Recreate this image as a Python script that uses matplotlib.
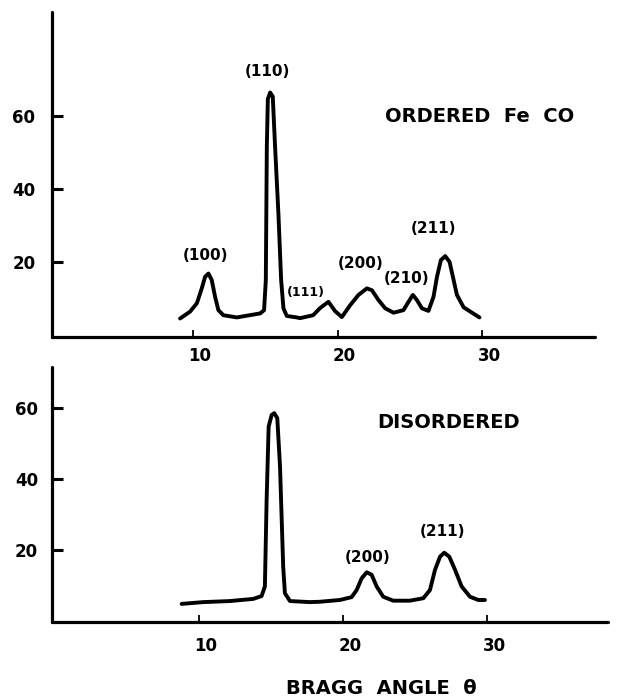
import numpy as np
import matplotlib.pyplot as plt
from matplotlib.transforms import ScaledTranslation

# --- Ordered FeCo curve (Bragg angle, intensity) ---
ordered_angle = [9.10, 9.79, 10.26, 10.60, 10.83, 11.06, 11.29, 11.52, 11.75, 12.10,
                 13.02, 14.64, 14.91, 15.03, 15.10, 15.17, 15.33, 15.51, 15.67, 15.90,
                 16.09, 16.25, 16.48, 17.17, 17.40, 18.30, 18.79, 19.36, 19.83, 20.29,
                 20.87, 21.44, 22.02, 22.37, 22.82, 23.29, 23.86, 24.55, 24.90, 25.20,
                 25.48, 25.83, 26.28, 26.63, 26.87, 27.14, 27.44, 27.74, 27.97, 28.25,
                 28.71, 29.29, 29.81]
ordered_int = [4.3, 6.2, 8.5, 12.6, 15.8, 16.7, 14.9, 10.3, 6.6, 5.2,
               4.6, 5.7, 6.6, 14.9, 51.7, 64.8, 66.6, 65.5, 51.7, 33.3,
               14.9, 7.1, 5.0, 4.6, 4.4, 5.2, 7.2, 8.9, 6.3, 4.7,
               8.0, 10.8, 12.6, 12.1, 9.4, 7.1, 5.9, 6.6, 8.9, 10.8,
               9.4, 7.1, 6.4, 10.3, 15.8, 20.4, 21.5, 19.9, 15.8, 10.8,
               7.4, 5.9, 4.6]

# --- Disordered curve ---
disordered_angle = [8.80, 10.30, 12.15, 13.77, 14.35, 14.58, 14.70, 14.84, 15.05, 15.23,
                    15.44, 15.63, 15.85, 15.97, 16.32, 17.71, 18.40, 19.79, 20.60, 20.95,
                    21.30, 21.65, 21.99, 22.34, 22.80, 23.49, 24.65, 25.58, 26.04, 26.39,
                    26.74, 27.03, 27.38, 27.78, 28.24, 28.82, 29.40, 29.86]
disordered_int = [4.8, 5.3, 5.6, 6.2, 7.0, 9.7, 34.1, 54.7, 58.0, 58.5,
                  57.1, 43.5, 15.3, 7.8, 5.6, 5.3, 5.4, 5.9, 6.7, 8.7,
                  12.0, 13.7, 13.0, 9.7, 6.8, 5.7, 5.7, 6.4, 8.7, 14.4,
                  18.1, 19.2, 18.1, 14.4, 9.7, 6.8, 5.9, 5.9]

# peak labels: (text, angle, intensity)
ordered_peaks = [("(100)", 10.83, 21.8), ("(110)", 15.12, 72.3), ("(111)", 17.8, 11.6),
                 ("(200)", 21.56, 19.6), ("(210)", 24.8, 15.4), ("(211)", 26.6, 29.2)]
disordered_peaks = [("(200)", 21.7, 18.0), ("(211)", 26.9, 25.1)]

x_ticks = [10, 20, 30]
y_ticks = [20, 40, 60]

W, H = 621, 698
fig = plt.figure(figsize=(W / 100, H / 100), dpi=100)

ax1 = fig.add_axes([52 / W, (H - 337) / H, 543 / W, 325 / H])
ax2 = fig.add_axes([52 / W, (H - 622) / H, 556 / W, 255 / H])


def style_axes(ax, ypad, xpad):
    for side in ["top", "right"]:
        ax.spines[side].set_visible(False)
    for side in ["left", "bottom"]:
        ax.spines[side].set_linewidth(2.3)
        ax.spines[side].set_capstyle("round")
    ax.set_yticks(y_ticks)
    ax.set_yticklabels([str(v) for v in y_ticks], fontweight="bold", fontsize=12)
    ax.set_xticks(x_ticks)
    ax.set_xticklabels([str(v) for v in x_ticks], fontweight="bold", fontsize=12)
    ax.tick_params(axis="y", direction="in", length=8, width=2.2, pad=ypad)
    ax.tick_params(axis="x", direction="in", length=5, width=1.3, pad=xpad)
    # hand lettering sits a little to the right of the tick marks
    shift = ScaledTranslation(5 / 72, 0, fig.dpi_scale_trans)
    for lab in ax.get_xticklabels():
        lab.set_transform(lab.get_transform() + shift)


# --- top panel: ordered ---
ax1.plot(ordered_angle, ordered_int, color="black", linewidth=2.8,
         solid_joinstyle="round", solid_capstyle="round")
ax1.set_xlim(0.24, 37.8)
ax1.set_ylim(-0.8, 88.8)
style_axes(ax1, ypad=12, xpad=7)
for txt, xa, ya in ordered_peaks:
    fs = 9 if txt == "(111)" else 11
    ax1.text(xa, ya, txt, ha="center", va="center", fontsize=fs, fontweight="bold")
ax1.text(23.3, 59.9, "ORDERED  Fe  CO", ha="left", va="center",
         fontsize=14, fontweight="bold")

# --- bottom panel: disordered ---
ax2.plot(disordered_angle, disordered_int, color="black", linewidth=2.8,
         solid_joinstyle="round", solid_capstyle="round")
ax2.set_xlim(-0.2, 38.4)
ax2.set_ylim(-0.3, 71.5)
style_axes(ax2, ypad=10, xpad=11)
for txt, xa, ya in disordered_peaks:
    ax2.text(xa, ya, txt, ha="center", va="center", fontsize=11, fontweight="bold")
ax2.text(22.4, 55.8, "DISORDERED", ha="left", va="center",
         fontsize=14, fontweight="bold")

fig.text(381 / W, 1 - 688 / H, "BRAGG  ANGLE  θ", ha="center", va="center",
         fontsize=14, fontweight="bold")

fig.savefig("out.png", dpi=100)
